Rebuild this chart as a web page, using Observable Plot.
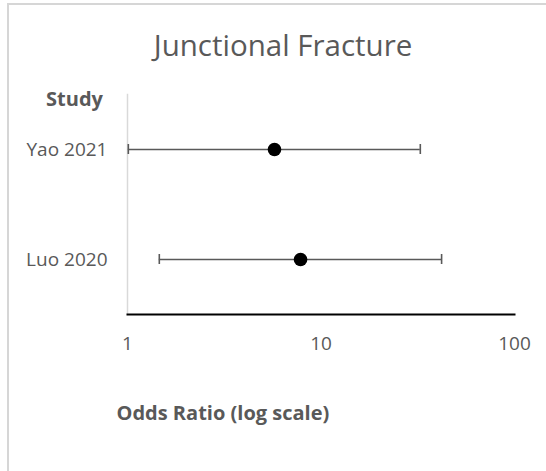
<!DOCTYPE html>
<html>
<head>
<meta charset="utf-8">
<script src="https://cdn.jsdelivr.net/npm/d3@7"></script>
<script src="https://cdn.jsdelivr.net/npm/@observablehq/plot@0.6"></script>
<style>
  html, body { margin: 0; padding: 0; background: #fff; }
  body { width: 546px; height: 471px; overflow: hidden; position: relative; }
  #border { position: absolute; left: 7px; top: 3px; width: 700px; height: 700px;
            border-left: 2px solid #d6d6d6; border-top: 2px solid #d6d6d6; }
  #title { position: absolute; left: 0; top: 30px; width: 566px; text-align: center;
           font-family: "Open Sans", sans-serif; font-weight: 400; font-size: 29.5px;
           line-height: 29.5px; color: #595959; white-space: nowrap; }
  #chart { position: absolute; left: 0; top: 72px; }
</style>
</head>
<body>
<div id="border"></div>
<div id="title">Junctional Fracture</div>
<div id="chart"></div>
<script>
const studies = ["Yao 2021", "Luo 2020"];
const oddsRatios = [5.75, 7.84];
const ciLower = [1.01, 1.46];
const ciUpper = [32.6, 42.0];
const xTicks = [1, 10, 100];
const xLabel = "Odds Ratio (log scale)";
const yLabel = "Study";

const data = studies.map((s, i) => ({study: s, or: oddsRatios[i], lo: ciLower[i], hi: ciUpper[i]}));

const plot = Plot.plot({
  width: 546,
  height: 399,
  marginLeft: 127,
  marginRight: 32,
  marginTop: 22,
  marginBottom: 157,
  style: {fontFamily: "Open Sans, sans-serif", fontSize: "19px", color: "#595959", background: "transparent", overflow: "visible"},
  x: {type: "log", domain: [1, 100]},
  y: {type: "band", domain: studies, padding: 0},
  marks: [
    Plot.frame({anchor: "left", stroke: "#d9d9d9", strokeWidth: 1.5}),
    Plot.frame({anchor: "bottom", stroke: "#000", strokeWidth: 2}),
    Plot.ruleY(data, {y: "study", x1: "lo", x2: "hi", stroke: "#595959", strokeWidth: 1.6}),
    Plot.tickX(data, {x: "lo", y: "study", stroke: "#595959", strokeWidth: 1.6, insetTop: 50, insetBottom: 50}),
    Plot.tickX(data, {x: "hi", y: "study", stroke: "#595959", strokeWidth: 1.6, insetTop: 50, insetBottom: 50}),
    Plot.dot(data, {x: "or", y: "study", r: 6.8, fill: "#000", stroke: "none"}),
    Plot.axisX({ticks: xTicks, tickFormat: d => String(d), tickSize: 0, tickPadding: 22, fontSize: 19, label: null}),
    Plot.axisY({tickSize: 0, tickPadding: 20, fontSize: 19, label: null}),
    Plot.text([yLabel], {frameAnchor: "top-left", textAnchor: "middle", lineAnchor: "middle", dx: -53, dy: 5, fontSize: 20, fontWeight: "bold", fill: "#595959"}),
    Plot.text([xLabel], {frameAnchor: "bottom-left", textAnchor: "start", lineAnchor: "middle", dx: -11, dy: 99, fontSize: 20, fontWeight: "bold", fill: "#595959"})
  ]
});
document.getElementById("chart").appendChild(plot);
</script>
</body>
</html>
